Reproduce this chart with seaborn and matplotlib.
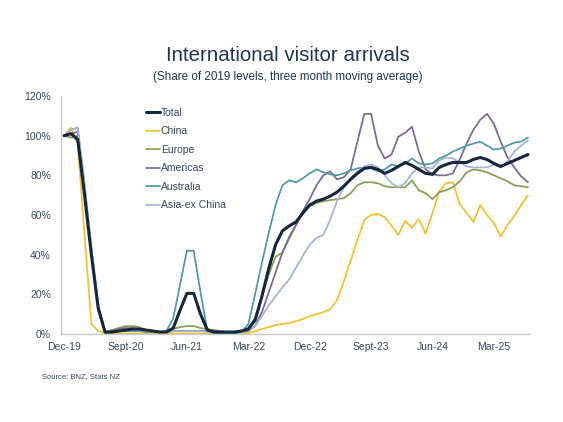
import numpy as np, pandas as pd, matplotlib
matplotlib.use("Agg"); import matplotlib.pyplot as plt
import seaborn as sns
sns.set_style("white")
plt.rcParams["font.family"] = ["Liberation Sans", "DejaVu Sans"]

# monthly, Dec-19 .. Aug-25 (3-month moving average, % of 2019 levels)
months = pd.period_range("2019-12", periods=69, freq="M")
tick_labels = ["Dec-19", "Sept-20", "Jun-21", "Mar-22", "Dec-22", "Sept-23", "Jun-24", "Mar-25"]

total = [100, 101, 98, 70, 40, 13, 1, 1, 1.5, 2, 2.5, 2.5, 2, 1.5, 1, 1, 3, 12, 20.5, 20.5,
         10, 2, 1, 1, 1, 1, 1.5, 2.5, 7, 19, 33, 45, 52, 54.5, 56.5, 61, 65, 67, 68, 69.5,
         71.5, 74.5, 78, 81, 83.5, 84, 83, 81, 82.5, 84.5, 86.5, 85, 83, 81, 80.5, 84, 85.5, 86.5,
         86.5, 86.5, 88, 89, 88, 86, 84.5, 86, 87.5, 89, 90.5]
china = [100, 104, 96, 50, 5, 1.5, 0.5, 0.3, 0.3, 0.3, 0.3, 0.3, 0.3, 0.3, 0.3, 0.3, 0.3, 0.3, 0.3, 0.3,
         0.3, 0.3, 0.3, 0.3, 0.3, 0.3, 0.3, 0.5, 1.5, 2.5, 3.5, 4.5, 5, 5.5, 6.5, 7.5, 9, 10, 11, 12.5,
         17, 26.5, 37, 47.5, 57.5, 60, 60.5, 59, 54.5, 50, 57, 53.5, 58, 50.5, 61, 72, 76, 76.5,
         65.5, 61, 56.5, 65, 60, 56, 49, 55, 59.5, 65, 70]
europe = [100, 99, 100, 72, 40, 12, 1, 2, 3, 4, 4, 3.5, 2, 1.5, 1, 1.5, 2.5, 3.5, 4, 4,
          3, 2.5, 2, 1.5, 1, 1, 1.5, 3, 8, 19, 30, 39, 41, 48, 55, 61, 64.5, 66, 67, 67.5,
          68, 68.5, 71, 75, 76.5, 76.5, 76, 74.5, 74, 74, 74, 77.5, 72.5, 71, 68, 71.5, 72.5, 74,
          77, 81.5, 83, 82.5, 81.5, 80, 78.5, 77, 75, 74.5, 74]
americas = [100, 101, 102, 74, 42, 14, 1, 1.5, 2.5, 3, 3, 2.5, 2, 1.5, 1, 1, 1.5, 1.5, 1.5, 1.5,
            1.5, 1.5, 1.5, 1, 1, 1, 1, 1.5, 4, 11, 21, 31, 41, 49, 55, 62, 68, 75, 80, 82,
            78, 79, 83, 97, 111, 111, 95, 88.5, 90.5, 99.5, 101.5, 104.5, 92, 83, 80.5, 80, 80, 81,
            88, 96, 103, 108, 111, 106, 97, 89, 84, 79.5, 76.5]
australia = [100, 103, 104, 75, 42, 14, 0.5, 1, 1.5, 1.5, 1.5, 1.5, 1, 1, 1, 1.5, 8, 25, 42, 42,
             21, 1.5, 0.5, 0.3, 0.3, 0.3, 1, 5, 20, 36, 51, 65, 75, 77.5, 76.5, 78.5, 81, 83, 81.5, 80.5,
             80, 81, 82.5, 83.5, 84, 83.5, 82, 83, 85.5, 84.5, 86, 88.5, 86, 85.5, 86, 88.5, 90, 92,
             93.5, 95, 96, 97, 95, 93, 93.5, 95, 96.5, 97, 99]
asia_ex_china = [100, 103, 104, 76, 44, 15, 1, 1, 1.5, 2, 2, 2, 1.5, 1, 1, 1, 1.5, 1.5, 1.5, 1.5,
                 1.5, 1, 1, 1, 1, 1, 1, 2, 4, 9, 14.5, 19, 23.5, 27.5, 33.5, 39.5, 45, 48.5, 50, 57.5,
                 67, 74, 78.5, 82, 84.5, 85.5, 84, 80, 76, 74, 76, 81, 84, 84, 83.5, 87.5, 89, 88.5,
                 86.5, 84.5, 84, 84, 84, 85.5, 84, 87, 92, 95, 97.5]

series = {"Total": total, "China": china, "Europe": europe, "Americas": americas,
          "Australia": australia, "Asia-ex China": asia_ex_china}
colors = {"Total": "#15263f", "China": "#f2c22a", "Europe": "#8a9e4e", "Americas": "#7a6892",
          "Australia": "#4b9aa5", "Asia-ex China": "#a7b2d6"}
widths = {"Total": 2.2, "China": 1.25, "Europe": 1.25, "Americas": 1.25, "Australia": 1.25,
          "Asia-ex China": 1.25}

idx = np.arange(len(months))
df = pd.DataFrame({k: np.array(v, float) / 100 for k, v in series.items()})
df["i"] = idx
long = df.melt(id_vars="i", var_name="series", value_name="share")

fig = plt.figure(figsize=(5.63, 4.22), dpi=100)
ax = fig.add_axes([0.1078, 0.2085, 0.8336, 0.564])
for name in ["China", "Europe", "Americas", "Australia", "Asia-ex China", "Total"]:
    sub = long[long.series == name]
    sns.lineplot(data=sub, x="i", y="share", ax=ax, color=colors[name], lw=widths[name],
                 label=name, zorder=3 if name == "Total" else 2)

txt = "#3a4658"
ax.set_xlim(-0.5, 68.3); ax.set_ylim(0, 1.2)
ax.set_yticks(np.arange(0, 1.21, 0.2))
ax.set_yticklabels([f"{int(round(v*100))}%" for v in np.arange(0, 1.21, 0.2)], fontsize=7.5, color=txt)
ax.set_xticks(np.arange(-0.5, 68, 9))
ax.set_xticklabels([])
ax.set_xticks(np.arange(0, 68, 9), minor=True)
ax.set_xticklabels(tick_labels, minor=True, fontsize=7.5, color=txt)
ax.tick_params(axis="x", which="major", length=4, color="#c8c8c8", direction="out")
ax.tick_params(axis="x", which="minor", length=0, pad=6)
ax.tick_params(axis="y", length=4, color="#c8c8c8", direction="out", pad=3)
ax.set_xlabel(""); ax.set_ylabel("")
for s in ["top", "right"]:
    ax.spines[s].set_visible(False)
for s in ["left", "bottom"]:
    ax.spines[s].set_color("#c8c8c8"); ax.spines[s].set_linewidth(1)

h, l = ax.get_legend_handles_labels()
order = ["Total", "China", "Europe", "Americas", "Australia", "Asia-ex China"]
hd = dict(zip(l, h))
ax.legend([hd[k] for k in order], order, loc="upper left", bbox_to_anchor=(0.162, 0.99),
          frameon=False, fontsize=7.5, handlelength=1.35, handletextpad=0.05, labelspacing=0.82,
          labelcolor=txt)

fig.text(0.511, 0.869, "International visitor arrivals", ha="center", va="center",
         fontsize=14.8, color="#1f3552")
fig.text(0.511, 0.818, "(Share of 2019 levels, three month moving average)", ha="center",
         va="center", fontsize=8.4, color="#1f3552")
fig.text(0.074, 0.107, "Source: BNZ, Stats NZ", ha="left", va="center", fontsize=5.5, color="#3a4658")

fig.savefig("out.png", dpi=100)
